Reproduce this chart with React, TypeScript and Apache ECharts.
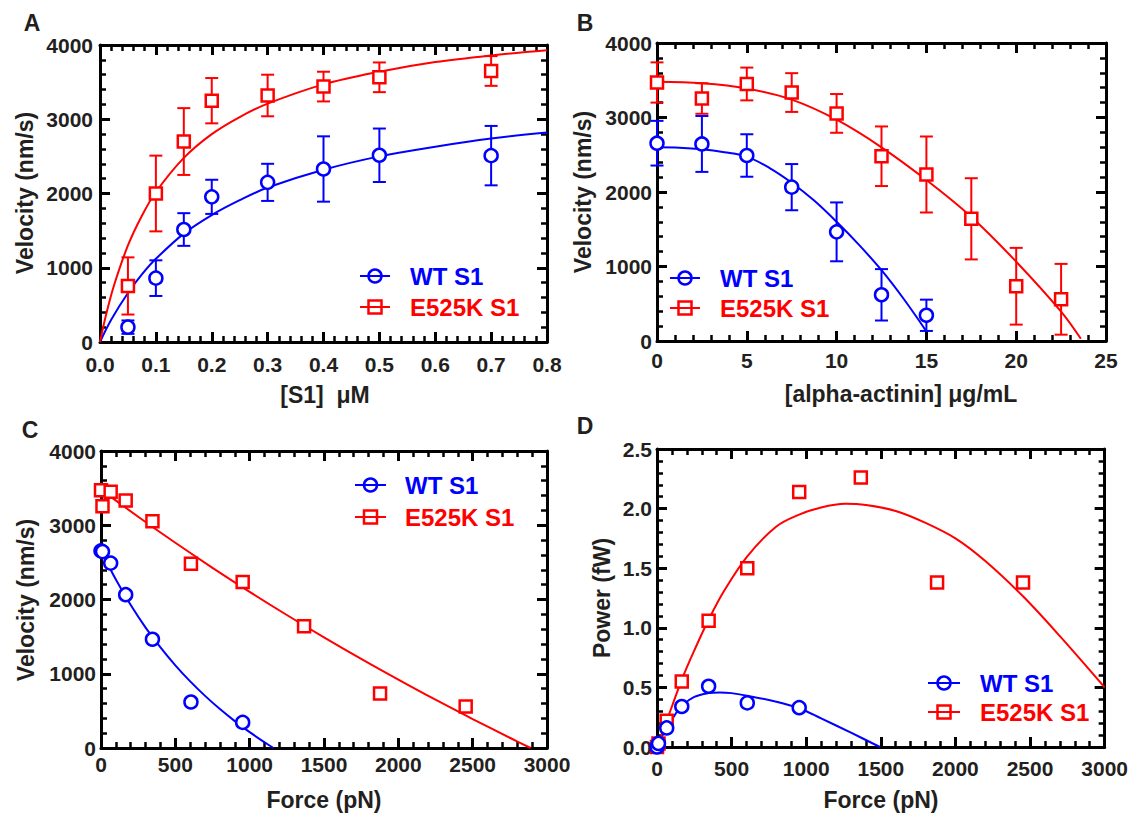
import React, { useEffect, useRef } from "react";
import * as echarts from "echarts";

const BLUE = "#0000ff";
const RED = "#ff0000";
const INK = "#231f20";
const FONT = '"Liberation Sans", Arial, Helvetica, sans-serif';

// ---------- Panel A : velocity vs [S1] ----------
const aConc = [0.05, 0.1, 0.15, 0.2, 0.3, 0.4, 0.5, 0.7];
const aWT = [200, 860, 1515, 1955, 2150, 2330, 2515, 2510];
const aWTErr = [90, 240, 220, 230, 250, 440, 360, 400];
const aMut = [755, 2000, 2700, 3250, 3320, 3440, 3565, 3650];
const aMutErr = [385, 510, 450, 305, 280, 200, 200, 200];
const aWTFit = [[0, 0], [0.02, 300], [0.05, 660], [0.075, 910], [0.1, 1120], [0.15, 1460], [0.2, 1710], [0.25, 1910], [0.3, 2080], [0.4, 2320], [0.5, 2500], [0.6, 2630], [0.7, 2740], [0.8, 2820]];
const aMutFit = [[0, 0], [0.01, 340], [0.025, 760], [0.05, 1300], [0.075, 1700], [0.1, 2020], [0.15, 2480], [0.2, 2800], [0.25, 3030], [0.3, 3210], [0.4, 3470], [0.5, 3640], [0.6, 3770], [0.7, 3860], [0.8, 3930]];

// ---------- Panel B : velocity vs [alpha-actinin] ----------
const bConc = [0, 2.5, 5, 7.5, 10, 12.5, 15, 17.5, 20, 22.5];
const bWT = [2655, 2645, 2490, 2065, 1465, 620, 345];
const bWTErr = [300, 375, 285, 310, 395, 345, 210];
const bMut = [3470, 3255, 3450, 3335, 3055, 2480, 2235, 1640, 735, 560];
const bMutErr = [270, 205, 220, 260, 260, 400, 510, 545, 515, 475];
const bWTFit = [[0, 2600], [1.25, 2595], [2.5, 2575], [3.75, 2535], [5, 2475], [6.25, 2325], [7.5, 2125], [8.75, 1885], [10, 1600], [11.25, 1290], [12.5, 950], [13.75, 560], [15, 130]];
const bMutFit = [[0, 3480], [2.5, 3460], [5, 3390], [7.5, 3240], [10, 2970], [12.5, 2600], [15, 2160], [17.5, 1665], [20, 1065], [22.5, 395], [23.6, 30]];

// ---------- Panel C : velocity vs force ----------
const cForceWT = [0, 10, 65, 166, 346, 605, 953];
const cVelWT = [2655, 2645, 2490, 2065, 1465, 620, 345];
const cForceMut = [0, 10, 65, 166, 346, 605, 953, 1366, 1877, 2453];
const cVelMut = [3470, 3255, 3450, 3335, 3055, 2480, 2235, 1640, 735, 560];
const cWTFit = [[0, 2660], [100, 2268], [200, 1925], [300, 1622], [400, 1354], [500, 1113], [600, 897], [700, 702], [800, 524], [900, 362], [1000, 213], [1100, 77], [1160, 0]];
const cMutFit = [[0, 3480], [250, 3115], [500, 2764], [750, 2427], [1000, 2103], [1250, 1791], [1500, 1490], [1750, 1200], [2000, 921], [2250, 650], [2500, 390], [2750, 138], [2890, 0]];

// ---------- Panel D : power vs force ----------
const dForceWT = [0, 10, 65, 166, 346, 605, 953];
const dPowWT = [0.0, 0.03, 0.16, 0.34, 0.51, 0.37, 0.33];
const dForceMut = [0, 10, 65, 166, 346, 605, 953, 1366, 1877, 2453];
const dPowMut = [0.0, 0.03, 0.22, 0.55, 1.06, 1.5, 2.14, 2.26, 1.38, 1.38];
const dWTFit = [[0, 0], [30, 0.08], [65, 0.155], [120, 0.27], [171, 0.35], [250, 0.42], [345, 0.452], [420, 0.458], [500, 0.452], [605, 0.43], [800, 0.38], [953, 0.325], [1100, 0.24], [1300, 0.12], [1494, 0]];
const dMutFit = [[0, 0], [50, 0.17], [100, 0.34], [171, 0.58], [250, 0.81], [345, 1.065], [450, 1.31], [605, 1.6], [800, 1.85], [953, 1.95], [1100, 2.01], [1261, 2.04], [1400, 2.03], [1600, 1.98], [1800, 1.88], [2000, 1.75], [2200, 1.56], [2456, 1.26], [2700, 0.93], [3000, 0.5]];

const LEGEND_WT = "WT S1";
const LEGEND_MUT = "E525K S1";

const panels = [
  { grid: { left: 100, top: 45, width: 447, height: 297 }, x: [0, 0.8, 0.1, 1, 12], y: [0, 4000, 1000, 0, 7] },
  { grid: { left: 657, top: 43, width: 449, height: 298 }, x: [0, 25, 5, 0, 9], y: [0, 4000, 1000, 0, 5] },
  { grid: { left: 101, top: 451, width: 446, height: 297 }, x: [0, 3000, 500, 0, 6], y: [0, 4000, 1000, 0, 5] },
  { grid: { left: 657, top: 449, width: 449, height: 298 }, x: [0, 3000, 500, 0, 11], y: [0, 2.5, 0.5, 1, 5] },
];

function axis(gridIndex: number, position: string, spec: number[], labels: boolean) {
  const [min, max, interval, dec, margin] = spec;
  return {
    type: "value",
    gridIndex,
    position,
    min,
    max,
    interval,
    axisLine: { show: true, onZero: false, lineStyle: { color: "#000", width: 3 } },
    axisTick: { show: true, inside: true, length: 10, lineStyle: { color: "#000", width: 3 } },
    minorTick: { show: true, splitNumber: 5, length: 6, lineStyle: { color: "#000", width: 2.5 } },
    splitLine: { show: false },
    minorSplitLine: { show: false },
    axisLabel: labels
      ? {
          show: true,
          margin,
          color: INK,
          fontSize: 21,
          fontWeight: "bold",
          fontFamily: FONT,
          formatter: (v: number) => v.toFixed(dec),
        }
      : { show: false },
  };
}

function zip(xs: number[], ys: number[]) {
  return ys.map((y, i) => [xs[i], y]);
}

function errData(xs: number[], ys: number[], es: number[]) {
  return ys.map((y, i) => [xs[i], y - es[i], y + es[i]]);
}

function errSeries(p: number, data: number[][], color: string) {
  return {
    type: "custom",
    xAxisIndex: 2 * p,
    yAxisIndex: 2 * p,
    z: 3,
    encode: { x: 0, y: [1, 2] },
    data,
    renderItem: (params: any, api: any) => {
      const x = api.value(0);
      const lo = api.value(1);
      const hi = api.value(2);
      const a = api.coord([x, hi]);
      const b = api.coord([x, lo]);
      const w = 6.5;
      const st = { stroke: color, lineWidth: 2 };
      return {
        type: "group",
        children: [
          { type: "line", shape: { x1: a[0], y1: a[1], x2: b[0], y2: b[1] }, style: st },
          { type: "line", shape: { x1: a[0] - w, y1: a[1], x2: a[0] + w, y2: a[1] }, style: st },
          { type: "line", shape: { x1: b[0] - w, y1: b[1], x2: b[0] + w, y2: b[1] }, style: st },
        ],
      };
    },
  };
}

function fitSeries(p: number, data: number[][], color: string) {
  return {
    type: "line",
    xAxisIndex: 2 * p,
    yAxisIndex: 2 * p,
    data,
    smooth: 0.35,
    showSymbol: false,
    symbol: "none",
    z: 2,
    lineStyle: { color, width: 2 },
    silent: true,
  };
}

function pointSeries(p: number, data: number[][], color: string, sym: string) {
  return {
    type: "scatter",
    xAxisIndex: 2 * p,
    yAxisIndex: 2 * p,
    data,
    symbol: sym,
    symbolSize: sym === "circle" ? 13 : 12,
    z: 4,
    itemStyle: { color: "#ffffff", borderColor: color, borderWidth: 2.5, opacity: 1 },
    silent: true,
  };
}

function text(x: number, y: number, t: string, size: number, color: string, align = "center", rotation = 0) {
  return {
    type: "text",
    x,
    y,
    rotation,
    silent: true,
    style: {
      text: t,
      font: `bold ${size}px ${FONT}`,
      fill: color,
      textAlign: align,
      textVerticalAlign: "middle",
      align,
      verticalAlign: "middle",
    },
  };
}

function legendRow(x0: number, x1: number, tx: number, y: number, color: string, sym: string, label: string) {
  const cx = (x0 + x1) / 2;
  const marker =
    sym === "circle"
      ? { type: "circle", shape: { cx, cy: y, r: 6.5 }, style: { fill: "none", stroke: color, lineWidth: 2.5 } }
      : { type: "rect", shape: { x: cx - 6.5, y: y - 6.5, width: 13, height: 13 }, style: { fill: "none", stroke: color, lineWidth: 2.5 } };
  return [
    { type: "line", shape: { x1: x0, y1: y, x2: x1, y2: y }, style: { stroke: color, lineWidth: 2 }, silent: true },
    { ...marker, silent: true },
    text(tx, y, label, 24, color, "left"),
  ];
}

export default function App() {
  const ref = useRef<HTMLDivElement>(null);

  useEffect(() => {
    if (!ref.current) return;
    const chart = echarts.init(ref.current, undefined, { renderer: "svg" });

    const xAxis: any[] = [];
    const yAxis: any[] = [];
    panels.forEach((pn, i) => {
      xAxis.push(axis(i, "bottom", pn.x, true));
      xAxis.push(axis(i, "top", pn.x, false));
      yAxis.push(axis(i, "left", pn.y, true));
      yAxis.push(axis(i, "right", pn.y, false));
    });

    const series: any[] = [
      // A
      fitSeries(0, aWTFit, BLUE),
      fitSeries(0, aMutFit, RED),
      errSeries(0, errData(aConc, aWT, aWTErr), BLUE),
      errSeries(0, errData(aConc, aMut, aMutErr), RED),
      pointSeries(0, zip(aConc, aWT), BLUE, "circle"),
      pointSeries(0, zip(aConc, aMut), RED, "rect"),
      // B
      fitSeries(1, bWTFit, BLUE),
      fitSeries(1, bMutFit, RED),
      errSeries(1, errData(bConc, bWT, bWTErr), BLUE),
      errSeries(1, errData(bConc, bMut, bMutErr), RED),
      pointSeries(1, zip(bConc, bWT), BLUE, "circle"),
      pointSeries(1, zip(bConc, bMut), RED, "rect"),
      // C
      fitSeries(2, cWTFit, BLUE),
      fitSeries(2, cMutFit, RED),
      pointSeries(2, zip(cForceWT, cVelWT), BLUE, "circle"),
      pointSeries(2, zip(cForceMut, cVelMut), RED, "rect"),
      // D
      fitSeries(3, dWTFit, BLUE),
      fitSeries(3, dMutFit, RED),
      pointSeries(3, zip(dForceMut, dPowMut), RED, "rect"),
      pointSeries(3, zip(dForceWT, dPowWT), BLUE, "circle"),
    ];

    const graphic: any[] = [
      text(32, 23, "A", 23, INK),
      text(585, 23, "B", 23, INK),
      text(30, 430, "C", 23, INK),
      text(585, 426, "D", 23, INK),
      text(325, 395, "[S1]  μM", 23, INK),
      text(25, 193, "Velocity (nm/s)", 23, INK, "center", Math.PI / 2),
      text(901, 394, "[alpha-actinin] μg/mL", 23, INK),
      text(583, 192, "Velocity (nm/s)", 23, INK, "center", Math.PI / 2),
      text(324, 800, "Force (pN)", 23, INK),
      text(26, 600, "Velocity (nm/s)", 23, INK, "center", Math.PI / 2),
      text(881, 800, "Force (pN)", 23, INK),
      text(602, 598, "Power (fW)", 23, INK, "center", Math.PI / 2),
      ...legendRow(360, 390, 410, 276, BLUE, "circle", LEGEND_WT),
      ...legendRow(360, 390, 410, 307, RED, "rect", LEGEND_MUT),
      ...legendRow(670, 700, 720, 278, BLUE, "circle", LEGEND_WT),
      ...legendRow(670, 700, 720, 308, RED, "rect", LEGEND_MUT),
      ...legendRow(355, 386, 405, 485, BLUE, "circle", LEGEND_WT),
      ...legendRow(355, 386, 405, 517, RED, "rect", LEGEND_MUT),
      ...legendRow(928, 960, 980, 683, BLUE, "circle", LEGEND_WT),
      ...legendRow(928, 960, 980, 712, RED, "rect", LEGEND_MUT),
    ];

    chart.setOption({
      animation: false,
      backgroundColor: "#ffffff",
      textStyle: { fontFamily: FONT },
      grid: panels.map((p) => ({ ...p.grid, containLabel: false })),
      xAxis,
      yAxis,
      series,
      graphic,
    });

    return () => chart.dispose();
  }, []);

  return (
    <div
      ref={ref}
      style={{ position: "absolute", left: 0, top: 0, width: 1131, height: 815, background: "#fff" }}
    />
  );
}
